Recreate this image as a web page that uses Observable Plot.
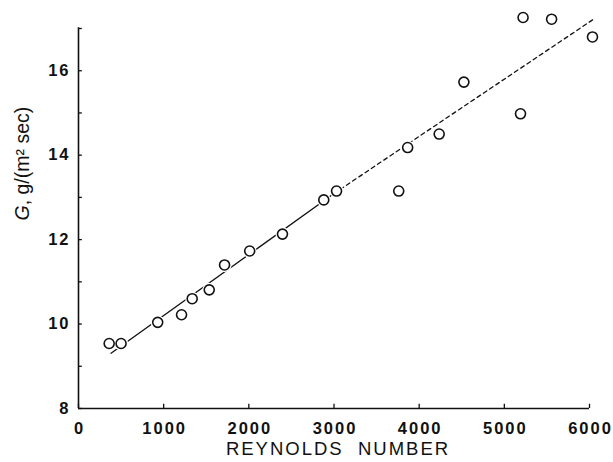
<!DOCTYPE html>
<html><head><meta charset="utf-8">
<script src="https://cdn.jsdelivr.net/npm/d3@7"></script>
<script src="https://cdn.jsdelivr.net/npm/@observablehq/plot@0.6"></script>
<style>
body{margin:0;background:#fff}
#chart svg g[aria-label="x-axis tick label"] text{letter-spacing:2px}
#chart svg g[aria-label="y-axis tick label"] text{letter-spacing:2px}
</style>
</head><body><div id="chart"></div>
<script>
// Measured points
const reynolds = [360, 500, 930, 1210, 1335, 1535, 1715, 2010, 2395, 2880, 3030, 3760, 3865, 4235, 4525, 5190, 5220, 5555, 6035];
const gValues  = [9.54, 9.54, 10.04, 10.22, 10.60, 10.81, 11.40, 11.73, 12.13, 12.94, 13.15, 13.15, 14.18, 14.50, 15.73, 14.98, 17.26, 17.22, 16.80];
// Fitted line: solid part (measured range) and dashed extension
const fitSolidX = [382, 3000];
const fitSolidY = [9.31, 13.09];
const fitDashX  = [3000, 6055];
const fitDashY  = [13.09, 17.23];
// Axes
const xTicks = [0, 1000, 2000, 3000, 4000, 5000, 6000];
const yTicks = [8, 10, 12, 14, 16];
const yMinorTicks = [9, 11, 13, 15, 17];
const xTitle = ["REYNOLDS\u00a0\u00a0NUMBER"];
const yTitle = ["G, g/(m\u00b2 sec)"];

const points = reynolds.map((r, i) => ({r, g: gValues[i]}));
const solid = fitSolidX.map((r, i) => ({r, g: fitSolidY[i]}));
const dashed = fitDashX.map((r, i) => ({r, g: fitDashY[i]}));
const ink = "#111";

const chart = Plot.plot({
  width: 613, height: 462,
  marginLeft: 78, marginRight: 24, marginTop: 28, marginBottom: 54,
  style: {fontFamily: "'Liberation Sans', Arial, Helvetica, sans-serif", background: "white", color: ink},
  x: {domain: [0, 6000]},
  y: {domain: [8, 17]},
  marks: [
    Plot.ruleX([0], {y1: 8, y2: 17.02, stroke: ink, strokeWidth: 1.6}),
    Plot.ruleY([8], {x1: 0, x2: 6000, stroke: ink, strokeWidth: 1.6}),
    Plot.ruleX(xTicks, {y1: 8, y2: 8.1, stroke: ink, strokeWidth: 1.3}),
    Plot.ruleY(yTicks.concat(yMinorTicks), {x1: 0, x2: 45, stroke: ink, strokeWidth: 1.3}),
    Plot.axisX({ticks: xTicks, tickSize: 0, tickPadding: 14, dx: 1, fontSize: 16.5, fontWeight: "bold", tickFormat: "d", label: null}),
    Plot.axisY({ticks: yTicks, tickSize: 0, tickPadding: 8, fontSize: 16.5, fontWeight: "bold", label: null}),
    Plot.line(solid, {x: "r", y: "g", stroke: ink, strokeWidth: 1.3}),
    Plot.line(dashed, {x: "r", y: "g", stroke: ink, strokeWidth: 1.3, strokeDasharray: "4,3.5"}),
    Plot.dot(points, {x: "r", y: "g", r: 7, fill: "white", stroke: "none"}),
    Plot.dot(points, {x: "r", y: "g", r: 5, fill: "white", stroke: ink, strokeWidth: 1.6}),
    Plot.text(xTitle, {frameAnchor: "bottom", dy: 46, dx: 4, fontSize: 18.5, fill: ink}),
    Plot.text(yTitle, {frameAnchor: "left", rotate: -90, dx: -56, dy: 2, fontSize: 19.5, fill: ink})
  ]
});

// italicize the leading G of the y title
d3.select(chart).selectAll("text").each(function() {
  const t = d3.select(this);
  if (t.text() === yTitle[0]) {
    t.text(null);
    t.append("tspan").attr("font-style", "italic").text("G");
    t.append("tspan").text(yTitle[0].slice(1));
  }
});
d3.select(chart).selectAll("text").each(function() {
  if (this.textContent === xTitle[0]) this.style.letterSpacing = "2px";
});

document.getElementById("chart").appendChild(chart);
</script>
</body></html>
